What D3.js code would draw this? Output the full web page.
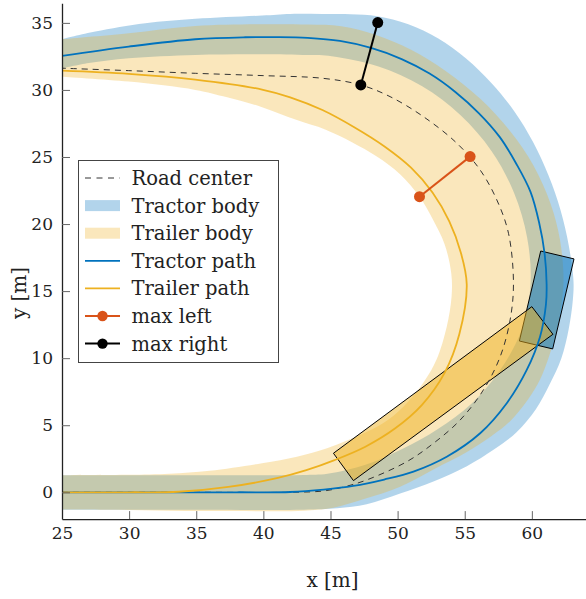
<!DOCTYPE html>
<html><head><meta charset="utf-8">
<script src="https://cdn.jsdelivr.net/npm/d3@7"></script>
<style>body{margin:0;background:#fff}</style>
</head><body>
<svg id="c" width="586" height="599"></svg>
<script>
// ---------- data (metres) ----------
const xDomain = [25, 65.3];
const yDomain = [-2, 36.46];
const xTicks = [25, 30, 35, 40, 45, 50, 55, 60];
const yTicks = [0, 5, 10, 15, 20, 25, 30, 35];

const roadCenter = [[25,0],[35,0],[42,0],[44.5,0.1],[46,0.4],[47.7,0.92],[50.68,2.28],[52.67,3.65],[54.66,5.39],[56.39,7.63],[57.64,10.11],[58.38,12.85],[58.63,15.58],[58.26,19.31],[57.39,21.8],[56.15,24.03],[54.41,26.03],[51.92,28.01],[49.44,29.5],[47.26,30.37],[44.4,30.87],[39.9,31.07],[34.93,31.24],[29.97,31.44],[25,31.62]];

const tractorPath = [[25,0],[32,0],[38,0],[42,0.02],[44.5,0.2],[46.7,0.47],[49,0.95],[51.18,1.54],[53.66,2.65],[56.15,4.4],[58.13,6.64],[59.62,9.12],[60.61,11.6],[61.05,14.0],[61.1,15.5],[60.95,17.8],[60.54,20.12],[59.9,22.4],[58.85,24.48],[57.6,26.5],[56.06,28.26],[54.3,29.85],[52.38,31.22],[50.3,32.3],[48.02,33.13],[45.7,33.65],[43.3,33.88],[41,33.94],[38.66,33.93],[34.93,33.78],[29.97,33.23],[25,32.54]];

const trailerPath = [[25,0],[30,0],[33.7,0.04],[37.4,0.4],[41.0,1.05],[43.2,1.65],[45.3,2.4],[47.6,3.4],[49.8,4.75],[51.8,6.5],[53.5,8.9],[54.6,11.8],[55.15,15.5],[54.7,17.9],[53.85,20.2],[52.6,22.35],[51.0,24.2],[49.0,25.8],[46.8,27.2],[44.4,28.5],[42.0,29.45],[39.9,30.03],[34.93,30.77],[29.97,31.2],[25,31.44]];

const tractorOuter = [[25,-1.3],[35,-1.3],[43,-1.3],[45.5,-1.2],[47.7,-0.9],[50.19,-0.1],[52.67,0.8],[55.16,1.95],[57.2,3.2],[58.88,4.5],[60.3,6.2],[61.3,8.0],[62.2,10.0],[62.75,12.2],[63.05,14.3],[63.1,15.8],[62.75,18.4],[62.15,21.0],[61.25,23.6],[60.1,26.1],[58.7,28.4],[57.0,30.5],[55.1,32.35],[53.0,33.85],[50.8,34.9],[48.5,35.5],[46.5,35.65],[44.37,35.66],[42,35.67],[39.9,35.55],[34.93,35.3],[31.2,34.97],[27.48,34.35],[25,33.78]];
const tractorInner = [[25,1.27],[35,1.27],[40,1.27],[43,1.29],[44.78,1.38],[47.66,2.07],[50.38,3.25],[53.0,4.72],[55.52,6.62],[57.64,9.11],[59.24,12.11],[59.9,15.5],[59.65,18.98],[58.67,22.34],[56.99,25.45],[54.67,28.13],[51.83,30.27],[48.58,31.74],[45.09,32.51],[43.3,32.6],[39.9,32.66],[34.93,32.61],[29.97,32.36],[27,32.0],[25,31.6]];

const trailerOuter = [[25,-1.28],[29,-1.3],[33,-1.37],[38,-1.4],[43,-1.38],[45.2,-1.15],[47.5,-0.5],[50.19,0.42],[52.67,1.7],[55.16,3.0],[57.0,4.2],[58.38,5.3],[59.7,6.9],[60.61,8.4],[61.3,10.2],[61.86,12.1],[62.2,14.0],[62.36,15.83],[62.1,18.8],[61.4,21.5],[60.1,24.4],[58.4,26.9],[56.2,29.3],[53.6,31.4],[51.0,33.0],[48.4,34.1],[45.8,34.75],[43.3,34.88],[39.9,34.9],[34.93,34.77],[29.97,34.23],[25,33.78]];
const trailerInner = [[25,1.27],[30,1.3],[33,1.38],[36,1.6],[39.9,2.16],[42.5,2.65],[44.8,3.3],[47.6,4.45],[49.3,5.4],[50.68,6.64],[52.0,8.3],[52.9,9.9],[53.66,12.35],[54.02,14.6],[54.0,16.3],[53.5,18.5],[52.6,20.4],[51.63,22.04],[50.2,23.7],[48.45,25.03],[46.6,26.1],[44.6,27.05],[42.5,27.75],[39.8,28.75],[37.3,29.45],[34.93,30.0],[29.97,30.62],[25,30.99]];

const tractorRect = [[60.66,17.99],[63.14,17.40],[61.55,10.69],[59.07,11.28]];
const trailerRect = [[60.0,13.84],[61.57,11.78],[46.71,0.87],[45.22,2.91]];

const maxLeft = [[55.4,25.03],[51.63,22.04]];
const maxRight = [[48.52,35.02],[47.26,30.37]];

const legendLabels = ["Road center","Tractor body","Trailer body","Tractor path","Trailer path","max left","max right"];

// ---------- styles ----------
const C_BLUE = "#0072BD", C_ORANGE = "#EDB120", C_RED = "#D95319";
const F_BLUE = "rgba(0,114,189,0.3)", F_ORANGE = "rgba(237,177,32,0.3)";
const SERIF = "'DejaVu Serif', serif";

const svg = d3.select("#c");
svg.append("rect").attr("width",586).attr("height",599).attr("fill","#fff");

const x = d3.scaleLinear().domain(xDomain).range([62, 603]);
const y = d3.scaleLinear().domain(yDomain).range([519.1, 3.3]);

svg.append("defs").append("clipPath").attr("id","plot")
  .append("rect").attr("x",62).attr("y",3.3).attr("width",541).attr("height",515.8);

const g = svg.append("g").attr("clip-path","url(#plot)");
const line = d3.line().x(d=>x(d[0])).y(d=>y(d[1])).curve(d3.curveCatmullRom.alpha(0.5));
const poly = d3.line().x(d=>x(d[0])).y(d=>y(d[1]));

function band(outer, inner){
  const a = line(outer);
  const b = line(inner.slice().reverse());
  return a + "L" + b.slice(1) + "Z";
}

g.append("path").attr("d", band(tractorOuter, tractorInner)).attr("fill", F_BLUE).attr("stroke","none");
g.append("path").attr("d", band(trailerOuter, trailerInner)).attr("fill", F_ORANGE).attr("stroke","none");

g.append("path").attr("d", poly(tractorRect)+"Z").attr("fill","rgba(0,114,189,0.5)").attr("stroke","#000").attr("stroke-width",1);
g.append("path").attr("d", poly(trailerRect)+"Z").attr("fill","rgba(237,177,32,0.5)").attr("stroke","#000").attr("stroke-width",1);

g.append("path").attr("d", line(roadCenter)).attr("fill","none").attr("stroke","#333").attr("stroke-width",1).attr("stroke-dasharray","6,5");
g.append("path").attr("d", line(tractorPath)).attr("fill","none").attr("stroke",C_BLUE).attr("stroke-width",1.8);
g.append("path").attr("d", line(trailerPath)).attr("fill","none").attr("stroke",C_ORANGE).attr("stroke-width",1.8);

function marker(pts, col){
  g.append("path").attr("d", poly(pts)).attr("stroke",col).attr("stroke-width",2).attr("fill","none");
  g.selectAll(null).data(pts).enter().append("circle")
    .attr("cx",d=>x(d[0])).attr("cy",d=>y(d[1])).attr("r",5.5).attr("fill",col);
}
marker(maxLeft, C_RED);
marker(maxRight, "#000");

// ---------- axes ----------
const xAxis = svg.append("g").attr("transform","translate(0,519.1)")
  .call(d3.axisBottom(x).tickValues(xTicks).tickSizeInner(-8).tickSizeOuter(0).tickPadding(8).tickFormat(d3.format("d")));
const yAxis = svg.append("g").attr("transform","translate(62,0)")
  .call(d3.axisLeft(y).tickValues(yTicks).tickSizeInner(-8).tickSizeOuter(0).tickPadding(9).tickFormat(d3.format("d")));
[xAxis,yAxis].forEach(a=>{
  a.attr("font-family", null);
  a.select(".domain").attr("stroke","#222").attr("stroke-width",1.3);
  a.selectAll(".tick line").attr("stroke","#666").attr("stroke-width",1);
  a.selectAll(".tick text").attr("fill","#222").style("font-family",SERIF).style("font-size","17px");
});

svg.append("text").attr("x",332.5).attr("y",587).attr("text-anchor","middle")
  .style("font-family",SERIF).style("font-size","20px").attr("fill","#222").text("x [m]");
svg.append("text").attr("transform","translate(26,293) rotate(-90)").attr("text-anchor","middle")
  .style("font-family",SERIF).style("font-size","20px").attr("fill","#222").text("y [m]");

// ---------- legend ----------
const lg = svg.append("g");
lg.append("rect").attr("x",78.5).attr("y",160.5).attr("width",200).attr("height",202)
  .attr("fill","#fff").attr("stroke","#444").attr("stroke-width",1);
const rowY = i => 178 + i*27.6;
legendLabels.forEach((lab,i)=>{
  const yy = rowY(i);
  if (i===0) lg.append("line").attr("x1",85).attr("x2",120).attr("y1",yy).attr("y2",yy).attr("stroke","#333").attr("stroke-width",1).attr("stroke-dasharray","6,5.5");
  if (i===1) lg.append("rect").attr("x",85).attr("y",yy-5.5).attr("width",35).attr("height",11).attr("fill",F_BLUE);
  if (i===2) lg.append("rect").attr("x",85).attr("y",yy-5.5).attr("width",35).attr("height",11).attr("fill",F_ORANGE);
  if (i===3) lg.append("line").attr("x1",85).attr("x2",120).attr("y1",yy).attr("y2",yy).attr("stroke",C_BLUE).attr("stroke-width",1.8);
  if (i===4) lg.append("line").attr("x1",85).attr("x2",120).attr("y1",yy).attr("y2",yy).attr("stroke",C_ORANGE).attr("stroke-width",1.8);
  if (i===5 || i===6){
    const col = i===5 ? C_RED : "#000";
    lg.append("line").attr("x1",85).attr("x2",120).attr("y1",yy).attr("y2",yy).attr("stroke",col).attr("stroke-width",2);
    lg.append("circle").attr("cx",102.5).attr("cy",yy).attr("r",5.2).attr("fill",col);
  }
  lg.append("text").attr("x",131.5).attr("y",yy+7).style("font-family",SERIF).style("font-size","19.5px")
    .attr("fill","#222").text(lab);
});
</script>
</body></html>
